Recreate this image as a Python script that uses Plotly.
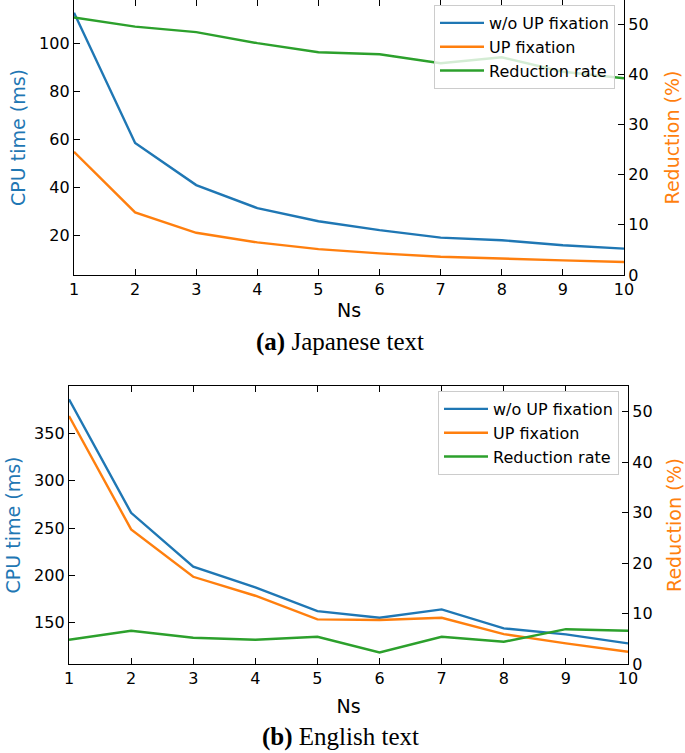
import plotly.graph_objects as go

ns = [1, 2, 3, 4, 5, 6, 7, 8, 9, 10]

# (a) Japanese text
ja_wo_fix = [112.8, 58.5, 40.9, 31.3, 25.8, 22.1, 19.0, 17.9, 15.8, 14.4]
ja_fix = [54.8, 29.5, 21.0, 17.0, 14.2, 12.4, 11.0, 10.1, 9.5, 8.8]
ja_red = [51.3, 49.5, 48.4, 46.2, 44.4, 44.0, 42.2, 43.4, 40.5, 39.2]

# (b) English text
en_wo_fix = [385.9, 266.1, 209.1, 187.3, 162.3, 155.2, 164.1, 144.0, 137.7, 128.2]
en_fix = [368.3, 248.6, 198.5, 178.5, 153.5, 152.8, 155.2, 138.0, 128.2, 119.4]
en_red = [4.8, 6.6, 5.2, 4.8, 5.4, 2.3, 5.4, 4.4, 6.9, 6.6]

names = ["w/o UP fixation", "UP fixation", "Reduction rate"]
colors = ["#1f77b4", "#ff7f0e", "#2ca02c"]

W, H = 685, 753
LW = 2.4

fig = go.Figure()

def add(x, y, xa, ya, name, color, legend):
    fig.add_trace(go.Scatter(x=x, y=y, mode="lines", name=name, xaxis=xa, yaxis=ya,
                             line=dict(color=color, width=LW), legend=legend,
                             showlegend=True))

# top chart
add(ns, ja_wo_fix, "x", "y", names[0], colors[0], "legend")
add(ns, ja_fix, "x", "y", names[1], colors[1], "legend")
add(ns, ja_red, "x", "y2", names[2], colors[2], "legend")
# bottom chart
add(ns, en_wo_fix, "x2", "y3", names[0], colors[0], "legend2")
add(ns, en_fix, "x2", "y3", names[1], colors[1], "legend2")
add(ns, en_red, "x2", "y4", names[2], colors[2], "legend2")

tickfont = dict(family="DejaVu Sans", size=16, color="black")
titlefont_sz = 19

def xax(domain, anchor, standoff):
    return dict(domain=domain, anchor=anchor, range=[1, 10], tickmode="array",
                tickvals=ns, ticks="inside", ticklen=6, tickwidth=1, tickcolor="black",
                showline=True, linecolor="black", linewidth=1.3, mirror="ticks",
                showgrid=False, zeroline=False, tickfont=tickfont, automargin=False,
                title=dict(text="Ns", font=dict(family="DejaVu Sans", size=titlefont_sz, color="black"),
                           standoff=standoff))

def yleft(domain, anchor, rng, tickvals):
    return dict(domain=domain, anchor=anchor, range=rng, tickmode="array", tickvals=tickvals,
                ticks="inside", ticklen=6, tickwidth=1, tickcolor="black",
                showline=True, linecolor="black", linewidth=1.3, mirror=False,
                showgrid=False, zeroline=False, tickfont=tickfont, automargin=False,
                title=dict(text="CPU time (ms)", font=dict(family="DejaVu Sans", size=titlefont_sz,
                                                           color="#1f77b4"), standoff=8))

def yright(overlay, anchor, rng):
    return dict(overlaying=overlay, anchor=anchor, side="right", range=rng,
                tickmode="array", tickvals=[0, 10, 20, 30, 40, 50],
                ticks="inside", ticklen=6, tickwidth=1, tickcolor="black",
                showline=True, linecolor="black", linewidth=1.3, automargin=False,
                showgrid=False, zeroline=False, tickfont=tickfont,
                title=dict(text="Reduction (%)", font=dict(family="DejaVu Sans", size=titlefont_sz,
                                                           color="#ff7f0e"), standoff=17))

top_x = [74 / W, 624 / W]
bot_x = [69 / W, 628 / W]
top_y = [1 - 275 / H, 1.0]
bot_y = [1 - 664 / H, 1 - 386 / H]

legend_style = dict(font=dict(family="DejaVu Sans", size=16, color="black"),
                    bgcolor="rgba(255,255,255,0.8)", bordercolor="#cccccc", borderwidth=1,
                    xanchor="right", yanchor="top", tracegroupgap=0, itemwidth=44)

fig.update_layout(
    width=W, height=H,
    margin=dict(l=0, r=0, t=0, b=0, autoexpand=False),
    paper_bgcolor="white", plot_bgcolor="white",
    xaxis=xax(top_x, "y", 5),
    yaxis=yleft(top_y, "x", [3.4, 118.1], [20, 40, 60, 80, 100]),
    yaxis2=yright("y", "x", [0, 54.8]),
    xaxis2=xax(bot_x, "y3", 12),
    yaxis3=yleft(bot_y, "x2", [106.4, 400], [150, 200, 250, 300, 350]),
    yaxis4=yright("y3", "x2", [0, 55.1]),
    legend=dict(x=615 / W, y=1 - 5 / H, **legend_style),
    legend2=dict(x=619 / W, y=1 - 391 / H, **legend_style),
    annotations=[
        dict(text="<b>(a)</b> Japanese text", x=340 / W, y=1 - 342 / H, xref="paper", yref="paper",
             showarrow=False, xanchor="center", yanchor="middle",
             font=dict(family="Liberation Serif", size=25, color="black")),
        dict(text="<b>(b)</b> English text", x=340 / W, y=1 - 737 / H, xref="paper", yref="paper",
             showarrow=False, xanchor="center", yanchor="middle",
             font=dict(family="Liberation Serif", size=25, color="black")),
    ],
)

fig.write_html("out.html", config={"displayModeBar": False},
               post_script="document.body.style.margin='0px';document.body.style.overflow='hidden';")
